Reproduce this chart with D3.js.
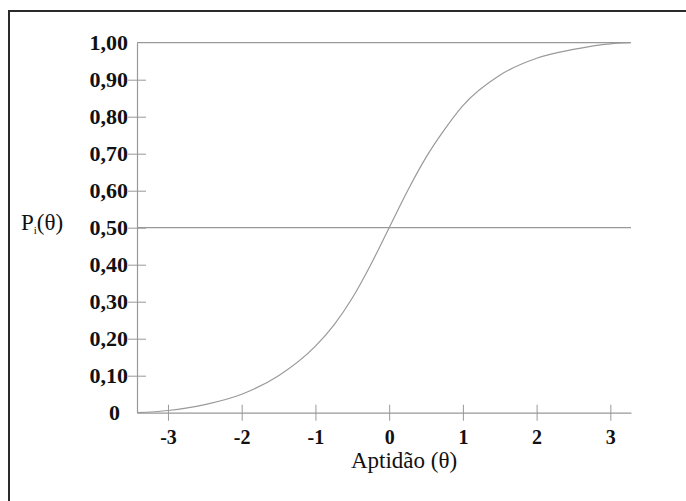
<!DOCTYPE html>
<html>
<head>
<meta charset="utf-8">
<script src="https://cdn.jsdelivr.net/npm/d3@7"></script>
<style>
  body { margin: 0; background: #fff; }
  svg { display: block; }
  .lbl { font-family: "Liberation Serif", serif; fill: #111; }
</style>
</head>
<body>
<div class="container"></div>
<script>
// curve points (theta, probability)
const theta = [-3.42, -3, -2.5, -2, -1.5, -1, -0.75, -0.5, -0.25, 0, 0.25, 0.5, 0.75, 1, 1.5, 2, 2.5, 3, 3.27]
const prob = [0.0, 0.006, 0.022, 0.05, 0.1, 0.18, 0.237, 0.31, 0.4, 0.5, 0.6, 0.69, 0.765, 0.83, 0.912, 0.958, 0.982, 0.997, 1.0]

const yTicks = [0, 0.1, 0.2, 0.3, 0.4, 0.5, 0.6, 0.7, 0.8, 0.9, 1.0]
const yTickLabels = ["0", "0,10", "0,20", "0,30", "0,40", "0,50", "0,60", "0,70", "0,80", "0,90", "1,00"]
const xTicks = [-3, -2, -1, 0, 1, 2, 3]
const xTickLabels = ["-3", "-2", "-1", "0", "1", "2", "3"]
const refLines = [1.0, 0.5]

const w = 686
const h = 501

const x = d3.scaleLinear().domain([-3.42, 3.28]).range([137, 631])
const y = d3.scaleLinear().domain([0, 1]).range([412.7, 42.7])

const svg = d3.select(".container")
  .append("svg")
  .attr("width", w)
  .attr("height", h)

// frame (only top and left edges are inside the picture)
svg.append("path")
  .attr("d", "M9,501 V11 H686")
  .attr("fill", "none")
  .attr("stroke", "#2a2a2a")
  .attr("stroke-width", 2)

// reference lines at 1,00 and 0,50
svg.selectAll(".ref")
  .data(refLines)
  .enter()
  .append("line")
  .attr("class", "ref")
  .attr("x1", x(-3.42))
  .attr("x2", x(3.28))
  .attr("y1", d => y(d))
  .attr("y2", d => y(d))
  .attr("stroke", "#999")
  .attr("stroke-width", 1.2)

// y axis
const yAxis = d3.axisLeft(y)
  .tickValues(yTicks)
  .tickFormat((d, i) => yTickLabels[i])
  .tickSizeOuter(0)

const gy = svg.append("g")
  .attr("transform", "translate(137,0)")
  .call(yAxis)
gy.select(".domain").attr("stroke", "#999").attr("stroke-width", 1.2)
gy.selectAll(".tick line")
  .attr("x1", 9).attr("x2", -9)
  .attr("stroke", "#999")
  .attr("display", d => (d === 0 || d === 1) ? "none" : null)
gy.selectAll(".tick text")
  .attr("class", "lbl")
  .attr("x", d => d === 0 ? -17 : -9)
  .attr("font-size", 22)
  .attr("font-weight", "bold")

// x axis
const xAxis = d3.axisBottom(x)
  .tickValues(xTicks)
  .tickFormat((d, i) => xTickLabels[i])
  .tickSizeOuter(0)

const gx = svg.append("g")
  .attr("transform", "translate(0,412.7)")
  .call(xAxis)
gx.select(".domain").attr("stroke", "#999").attr("stroke-width", 1.2)
gx.selectAll(".tick line")
  .attr("y1", -8).attr("y2", 8)
  .attr("stroke", "#999")
gx.selectAll(".tick text")
  .attr("class", "lbl")
  .attr("y", 17)
  .attr("font-size", 20)
  .attr("font-weight", "bold")

// curve
const line = d3.line()
  .x((d, i) => x(theta[i]))
  .y(d => y(d))
  .curve(d3.curveMonotoneX)

svg.append("path")
  .datum(prob)
  .attr("d", line)
  .attr("fill", "none")
  .attr("stroke", "#9a9a9a")
  .attr("stroke-width", 1.2)

// axis titles
svg.append("text")
  .attr("class", "lbl")
  .attr("x", 404)
  .attr("y", 468)
  .attr("text-anchor", "middle")
  .attr("font-size", 23)
  .text("Aptidão (θ)")

const pl = svg.append("text")
  .attr("class", "lbl")
  .attr("x", 21)
  .attr("y", 230)
  .attr("font-size", 23)
pl.append("tspan").text("P")
pl.append("tspan").attr("font-size", 11).attr("dy", 4).text("i")
pl.append("tspan").attr("dy", -4).text("(θ)")
</script>
</body>
</html>
